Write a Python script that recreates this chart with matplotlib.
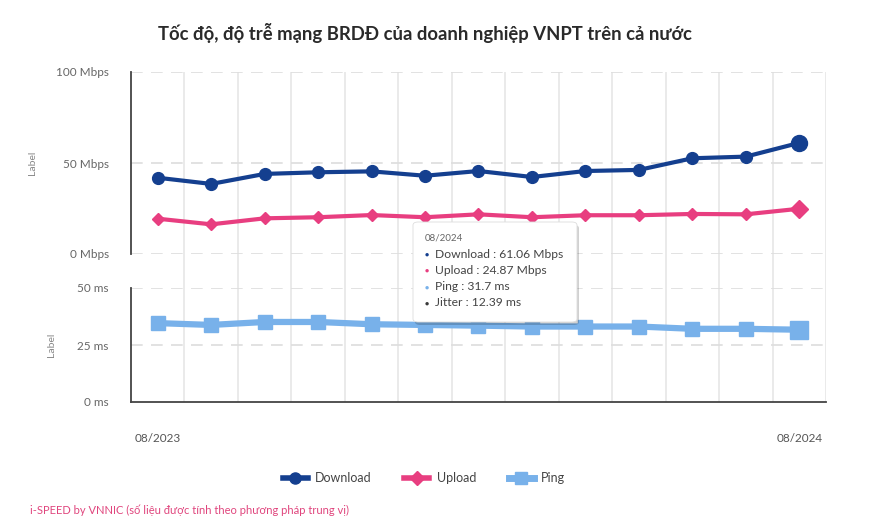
import matplotlib
matplotlib.use("Agg")
import matplotlib.pyplot as plt
from matplotlib.patches import FancyBboxPatch
from matplotlib.lines import Line2D
import numpy as np

plt.rcParams['font.family'] = ['Lato', 'DejaVu Sans']

months = ["08/2023", "09/2023", "10/2023", "11/2023", "12/2023", "01/2024", "02/2024",
          "03/2024", "04/2024", "05/2024", "06/2024", "07/2024", "08/2024"]
download = [41.9, 38.5, 44.0, 44.9, 45.4, 43.0, 45.6, 42.3, 45.6, 46.2, 52.6, 53.5, 61.06]
upload = [19.4, 16.3, 19.6, 20.2, 21.4, 20.2, 21.8, 20.2, 21.3, 21.3, 22.0, 21.8, 24.87]
ping = [34.6, 33.8, 35.1, 35.1, 34.1, 33.8, 33.5, 33.1, 33.1, 33.1, 32.1, 32.1, 31.7]
jitter_last = 12.39
speed_ticks = [0, 50, 100]
speed_labels = ["0 Mbps", "50 Mbps", "100 Mbps"]
ping_ticks = [0, 25, 50]
ping_labels = ["0 ms", "25 ms", "50 ms"]

C_DL = "#143f8f"
C_UL = "#e83e80"
C_PING = "#78b1ea"
C_JIT = "#3a3a3a"
C_FOOT = "#e0457d"

W, H = 870, 525
fig = plt.figure(figsize=(W / 100, H / 100), dpi=100)

def fx(px):
    return px / W

def fy(py):
    return 1 - py / H

L, R = 131, 826
T1, B1 = 72, 254
T2, B2 = 288, 402
x = np.arange(len(months))
xlim = (-0.5, len(months) - 0.5)

# background axes for continuous vertical grid lines
bg = fig.add_axes([fx(L), fy(B2), fx(R - L), fy(T1) - fy(B2)])
bg.set_xlim(*xlim)
bg.set_ylim(0, 1)
for i in range(len(months)):
    bg.axvline(i + 0.5, color="#e6e6e6", lw=1.2, zorder=0)
bg.axis("off")

ax1 = fig.add_axes([fx(L), fy(B1), fx(R - L), fy(T1) - fy(B1)])
ax2 = fig.add_axes([fx(L), fy(B2), fx(R - L), fy(T2) - fy(B2)])
for ax in (ax1, ax2):
    ax.patch.set_alpha(0)
    ax.set_xlim(*xlim)
    for s in ("top", "right", "bottom"):
        ax.spines[s].set_visible(False)
    ax.spines["left"].set_color("#444444")
    ax.spines["left"].set_linewidth(1.3)
    ax.tick_params(axis="y", length=0, pad=16, labelsize=8.5, labelcolor="#666666")
    ax.tick_params(axis="x", length=0)
    ax.set_xticks([])
    ax.set_ylabel("Label", fontsize=7.5, color="#888888")

ax2.spines["bottom"].set_visible(True)
ax2.spines["bottom"].set_color("#444444")
ax2.spines["bottom"].set_linewidth(1.3)

ax1.set_ylim(0, 100)
ax1.set_yticks(speed_ticks)
ax1.set_yticklabels(speed_labels)
for v in speed_ticks:
    ax1.axhline(v, color="#dddddd", lw=1.2, dashes=(7, 5), zorder=0.5)
ax1.yaxis.set_label_coords(fx(37 - L) / fx(R - L), 0.5)

ax2.set_ylim(0, 50)
ax2.set_yticks(ping_ticks)
ax2.set_yticklabels(ping_labels)
for v in ping_ticks[1:]:
    ax2.axhline(v, color="#dddddd", lw=1.2, dashes=(7, 5), zorder=0.5)
ax2.yaxis.set_label_coords(fx(56 - L) / fx(R - L), 0.5)

mk = list(range(len(x) - 1))
ax1.plot(x, download, color=C_DL, lw=3, marker="o", ms=8.5, markevery=mk, zorder=3)
ax1.plot(x[-1], download[-1], color=C_DL, marker="o", ms=11.5, zorder=3)
ax1.plot(x, upload, color=C_UL, lw=3, marker="D", ms=6.5, markevery=mk, zorder=3)
ax1.plot(x[-1], upload[-1], color=C_UL, marker="D", ms=9.5, zorder=3)
ax2.plot(x, ping, color=C_PING, lw=4.5, marker="s", ms=10, markevery=mk, zorder=3)
ax2.plot(x[-1], ping[-1], color=C_PING, marker="s", ms=13, zorder=3)

# x labels (first and last)
ax2.text(0, -0.32, months[0], transform=ax2.get_xaxis_transform(), ha="center", va="center",
         fontsize=8.5, color="#555555")
ax2.text(len(months) - 1, -0.32, months[-1], transform=ax2.get_xaxis_transform(), ha="center",
         va="center", fontsize=8.5, color="#555555")

# title
fig.text(fx(425), fy(33), "Tốc độ, độ trễ mạng BRDĐ của doanh nghiệp VNPT trên cả nước",
         ha="center", va="center", fontsize=13.3, fontweight="bold", color="#2a2a2a")

# legend
h_dl = Line2D([], [], color=C_DL, lw=4, marker="o", ms=8)
h_ul = Line2D([], [], color=C_UL, lw=4, marker="D", ms=7)
h_pg = Line2D([], [], color=C_PING, lw=5, marker="s", ms=8)
fig.legend([h_dl, h_ul, h_pg], ["Download", "Upload", "Ping"], loc="center",
           bbox_to_anchor=(fx(424), fy(478)), ncol=3, frameon=False, fontsize=9,
           handlelength=2.0, columnspacing=2.6, handletextpad=0.6, labelcolor="#444444")

# footer
fig.text(fx(30), fy(510), "i-SPEED by VNNIC (số liệu được tính theo phương pháp trung vị)",
         ha="left", va="center", fontsize=8, color=C_FOOT)

# tooltip
bx0, by0, bx1, by1 = 413, 222, 577, 322
shadow = FancyBboxPatch((fx(bx0 + 2), fy(by1 + 3)), fx(bx1 - bx0), fy(by0) - fy(by1),
                        boxstyle="round,pad=0,rounding_size=0.006", transform=fig.transFigure,
                        facecolor="#000000", alpha=0.18, edgecolor="none", zorder=10)
box = FancyBboxPatch((fx(bx0), fy(by1)), fx(bx1 - bx0), fy(by0) - fy(by1),
                     boxstyle="round,pad=0,rounding_size=0.006", transform=fig.transFigure,
                     facecolor="white", edgecolor="#dddddd", lw=0.6, zorder=11)
fig.patches.extend([shadow, box])
fig.text(fx(425), fy(238), months[-1], fontsize=7, color="#666666", va="center", zorder=12)
rows = [
    (C_DL, f"Download : {download[-1]:.2f} Mbps", 254),
    (C_UL, f"Upload : {upload[-1]:.2f} Mbps", 270),
    (C_PING, f"Ping : {ping[-1]:.1f} ms", 287),
    (C_JIT, f"Jitter : {jitter_last:.2f} ms", 303),
]
for col, txt, yy in rows:
    fig.text(fx(425), fy(yy), "●", fontsize=5, color=col, va="center", zorder=12)
    fig.text(fx(435), fy(yy), txt, fontsize=8.7, color="#444444", va="center", zorder=12)

fig.savefig("out.png", dpi=100)
